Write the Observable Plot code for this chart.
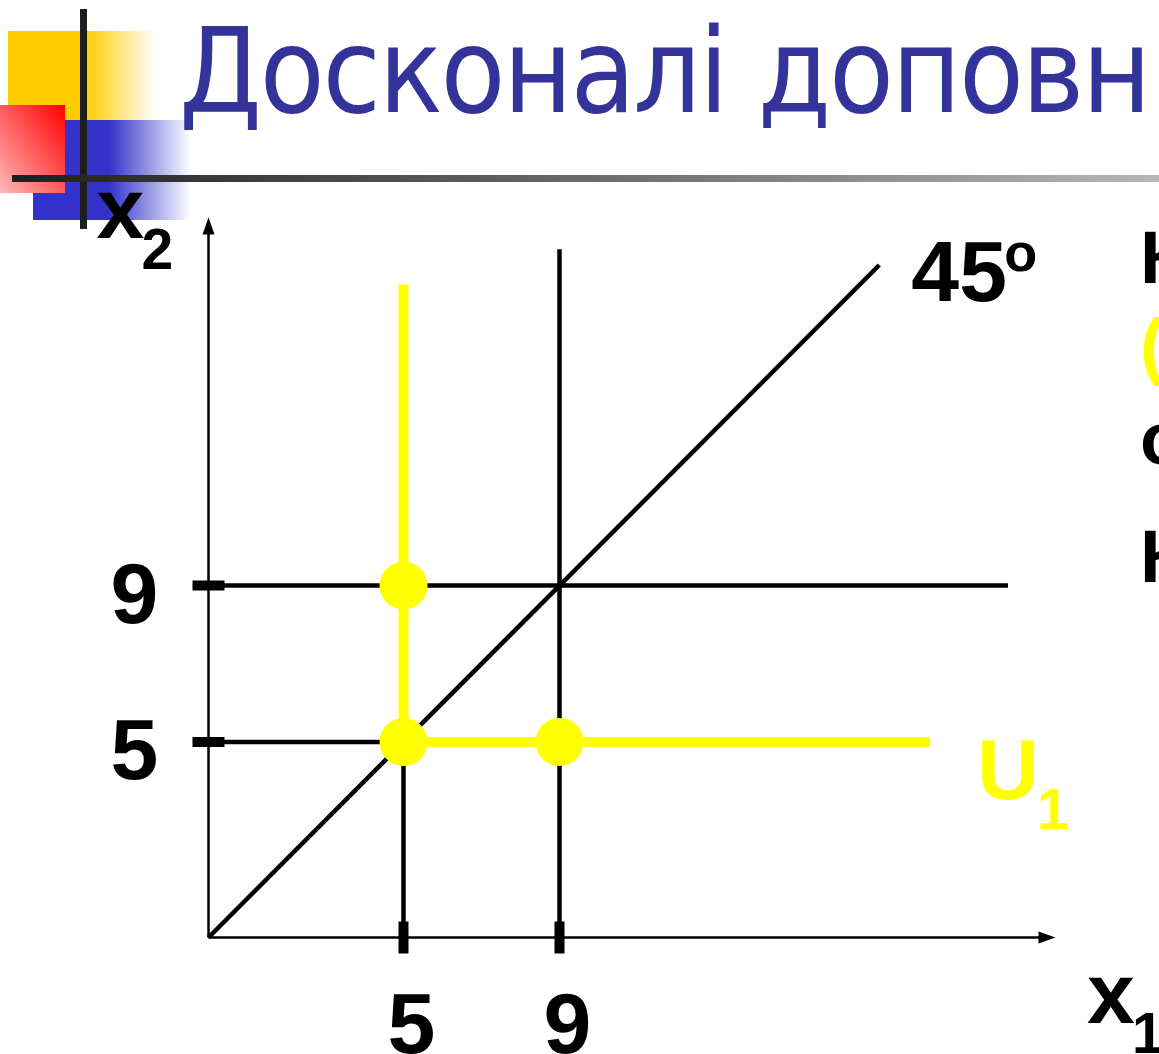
<!DOCTYPE html>
<html><head><meta charset="utf-8">
<script src="https://cdn.jsdelivr.net/npm/d3@7"></script>
<script src="https://cdn.jsdelivr.net/npm/@observablehq/plot@0.6"></script>
<style>
html,body{margin:0;padding:0;overflow:hidden;background:#fff;width:1159px;height:1054px}
#stage{position:relative;width:1159px;height:1054px;overflow:hidden}
#decor,#chart{position:absolute;left:0;top:0}
</style></head><body>
<div id="stage"><svg id="decor" width="1159" height="1054"></svg><div id="chart"></div></div>
<script>
// ---------- data ----------
const titleText = "Досконалі доповнювачі";
const tickValues = [5, 9];
const tickLabels = ["5", "9"];
const axisEnd = {x: 21.5, y: 18.2};
const diagonal = [{x: 0, y: 0}, {x: 17.2, y: 17.2}];
const guideLines = [
  {x1: 0, y1: 9, x2: 20.5, y2: 9},
  {x1: 9, y1: 0, x2: 9, y2: 17.6},
  {x1: 0, y1: 5, x2: 5, y2: 5},
  {x1: 5, y1: 0, x2: 5, y2: 5}
];
const indifference = [{x: 5, y: 16.7}, {x: 5, y: 5}, {x: 18.5, y: 5}];
const bundles = [{x: 5, y: 9}, {x: 5, y: 5}, {x: 9, y: 5}];
const sideLines = [
  {text: "Кошики", color: "#000", y: 283},
  {text: "(5,9), (5,5), (9,5)", color: "#ffff00", y: 371},
  {text: "однаково", color: "#000", y: 464},
  {text: "Корисні", color: "#000", y: 582}
];

// ---------- slide decoration ----------
const decor = d3.select("#decor");
const defs = decor.append("defs");
function lg(id, x1, y1, x2, y2, stops) {
  const g = defs.append("linearGradient").attr("id", id)
    .attr("x1", x1).attr("y1", y1).attr("x2", x2).attr("y2", y2);
  stops.forEach(s => g.append("stop").attr("offset", s[0]).attr("stop-color", s[1]).attr("stop-opacity", s[2] ?? 1));
}
lg("gy", 0, 0, 1, 0, [[0, "#ffcc00"], [0.52, "#ffcc00"], [1, "#ffcc00", 0]]);
lg("gb", 0, 0, 1, 0, [[0, "#3333cc"], [0.48, "#3333cc"], [1, "#3333cc", 0]]);
lg("gr", 1, 0, 0, 1, [[0, "#ff0000"], [1, "#ffb8b8"]]);
lg("gl", 0, 0, 1, 0, [[0, "#1e1e1e"], [1, "#b6b6b6"]]);
decor.append("rect").attr("x", 8).attr("y", 31).attr("width", 148).attr("height", 89).attr("fill", "url(#gy)");
decor.append("rect").attr("x", 33).attr("y", 120).attr("width", 158).attr("height", 100).attr("fill", "url(#gb)");
decor.append("rect").attr("x", 0).attr("y", 105).attr("width", 65).attr("height", 88).attr("fill", "url(#gr)");
decor.append("rect").attr("x", 80).attr("y", 9).attr("width", 7).attr("height", 220).attr("fill", "#1e1e1e");
decor.append("rect").attr("x", 12).attr("y", 175).attr("width", 1147).attr("height", 7).attr("fill", "url(#gl)");

const titleFont = `118px "DejaVu Sans Condensed", "DejaVu Sans", sans-serif`;
const cx = document.createElement("canvas").getContext("2d");
cx.font = titleFont;
const prefix = "Досконалі допов";
const wPrefix = cx.measureText(prefix).width;
const ls = (1083 - 180 - wPrefix) / prefix.length;
decor.append("text").attr("x", 179).attr("y", 112)
  .attr("fill", "#333399")
  .style("font", titleFont)
  .style("letter-spacing", ls + "px")
  .text(titleText);

decor.selectAll("text.side").data(sideLines).join("text").attr("class", "side")
  .attr("x", 1140).attr("y", d => d.y).attr("fill", d => d.color)
  .style("font", `bold 74px "Liberation Sans", Arial, sans-serif`)
  .text(d => d.text);

// ---------- chart ----------
const arrowHead = {draw(ctx) { ctx.moveTo(0, -8.5); ctx.lineTo(6, 8.5); ctx.lineTo(-6, 8.5); ctx.closePath(); }};
const tickBar = {draw(ctx) { ctx.moveTo(-16, -5); ctx.lineTo(16, -5); ctx.lineTo(16, 5); ctx.lineTo(-16, 5); ctx.closePath(); }};
const font = {fontFamily: "'Liberation Sans', Arial, sans-serif", fontWeight: "bold", lineAnchor: "bottom"};
const yellow = "#ffff00";

const chart = Plot.plot({
  width: 1159, height: 1054, margin: 0,
  x: {domain: [0, 22], range: [208, 208 + 22 * 39], axis: null},
  y: {domain: [0, 20], range: [937, 937 - 20 * 39.1], axis: null},
  style: {background: "transparent", overflow: "visible"},
  marks: [
    Plot.link([{x1: 0, y1: 0, x2: axisEnd.x, y2: 0}, {x1: 0, y1: 0, x2: 0, y2: axisEnd.y}],
      {x1: "x1", y1: "y1", x2: "x2", y2: "y2", stroke: "#000", strokeWidth: 2.5}),
    Plot.dot([{x: axisEnd.x, y: 0, r: 90}, {x: 0, y: axisEnd.y, r: 0}],
      {x: "x", y: "y", rotate: "r", symbol: arrowHead, fill: "#000", stroke: "none"}),
    Plot.link(guideLines, {x1: "x1", y1: "y1", x2: "x2", y2: "y2", stroke: "#000", strokeWidth: 4.5, strokeLinecap: "butt"}),
    Plot.line(diagonal, {x: "x", y: "y", stroke: "#000", strokeWidth: 4.5, strokeLinecap: "butt"}),
    Plot.dot(tickValues, {x: d => d, y: 0, rotate: 90, symbol: tickBar, fill: "#000", stroke: "none"}),
    Plot.dot(tickValues, {x: 0, y: d => d, symbol: tickBar, fill: "#000", stroke: "none"}),
    Plot.line(indifference, {x: "x", y: "y", stroke: yellow, strokeWidth: 10, strokeLinejoin: "miter", strokeLinecap: "butt"}),
    Plot.dot(bundles, {x: "x", y: "y", r: 24, fill: yellow, stroke: "none"}),
    Plot.text(tickValues, {x: d => d, y: 0, text: (d, i) => tickLabels[i], dx: 8, dy: 115, fontSize: 86, ...font}),
    Plot.text(tickValues, {x: 0, y: d => d, text: (d, i) => tickLabels[i], dx: -74, dy: 37, fontSize: 86, ...font}),
    Plot.text([diagonal[1]], {x: "x", y: "y", text: () => "45", textAnchor: "start", dx: 32, dy: 36, fontSize: 86, ...font}),
    Plot.text([diagonal[1]], {x: "x", y: "y", text: () => "o", textAnchor: "start", dx: 125, dy: 6, fontSize: 54, ...font}),
    Plot.text([{x: 0, y: axisEnd.y}], {x: "x", y: "y", text: () => "x", textAnchor: "start", dx: -112, dy: 12, fontSize: 86, ...font}),
    Plot.text([{x: 0, y: axisEnd.y}], {x: "x", y: "y", text: () => "2", textAnchor: "start", dx: -67, dy: 43, fontSize: 57, ...font}),
    Plot.text([{x: axisEnd.x, y: 0}], {x: "x", y: "y", text: () => "x", textAnchor: "start", dx: 40, dy: 85, fontSize: 86, ...font}),
    Plot.text([{x: axisEnd.x, y: 0}], {x: "x", y: "y", text: () => "1", textAnchor: "start", dx: 85, dy: 115, fontSize: 57, ...font}),
    Plot.text([indifference[2]], {x: "x", y: "y", text: () => "U", textAnchor: "start", dx: 47, dy: 57, fontSize: 86, fill: yellow, ...font}),
    Plot.text([indifference[2]], {x: "x", y: "y", text: () => "1", textAnchor: "start", dx: 107, dy: 87, fontSize: 57, fill: yellow, ...font})
  ]
});
document.getElementById("chart").appendChild(chart);
</script>
</body></html>
